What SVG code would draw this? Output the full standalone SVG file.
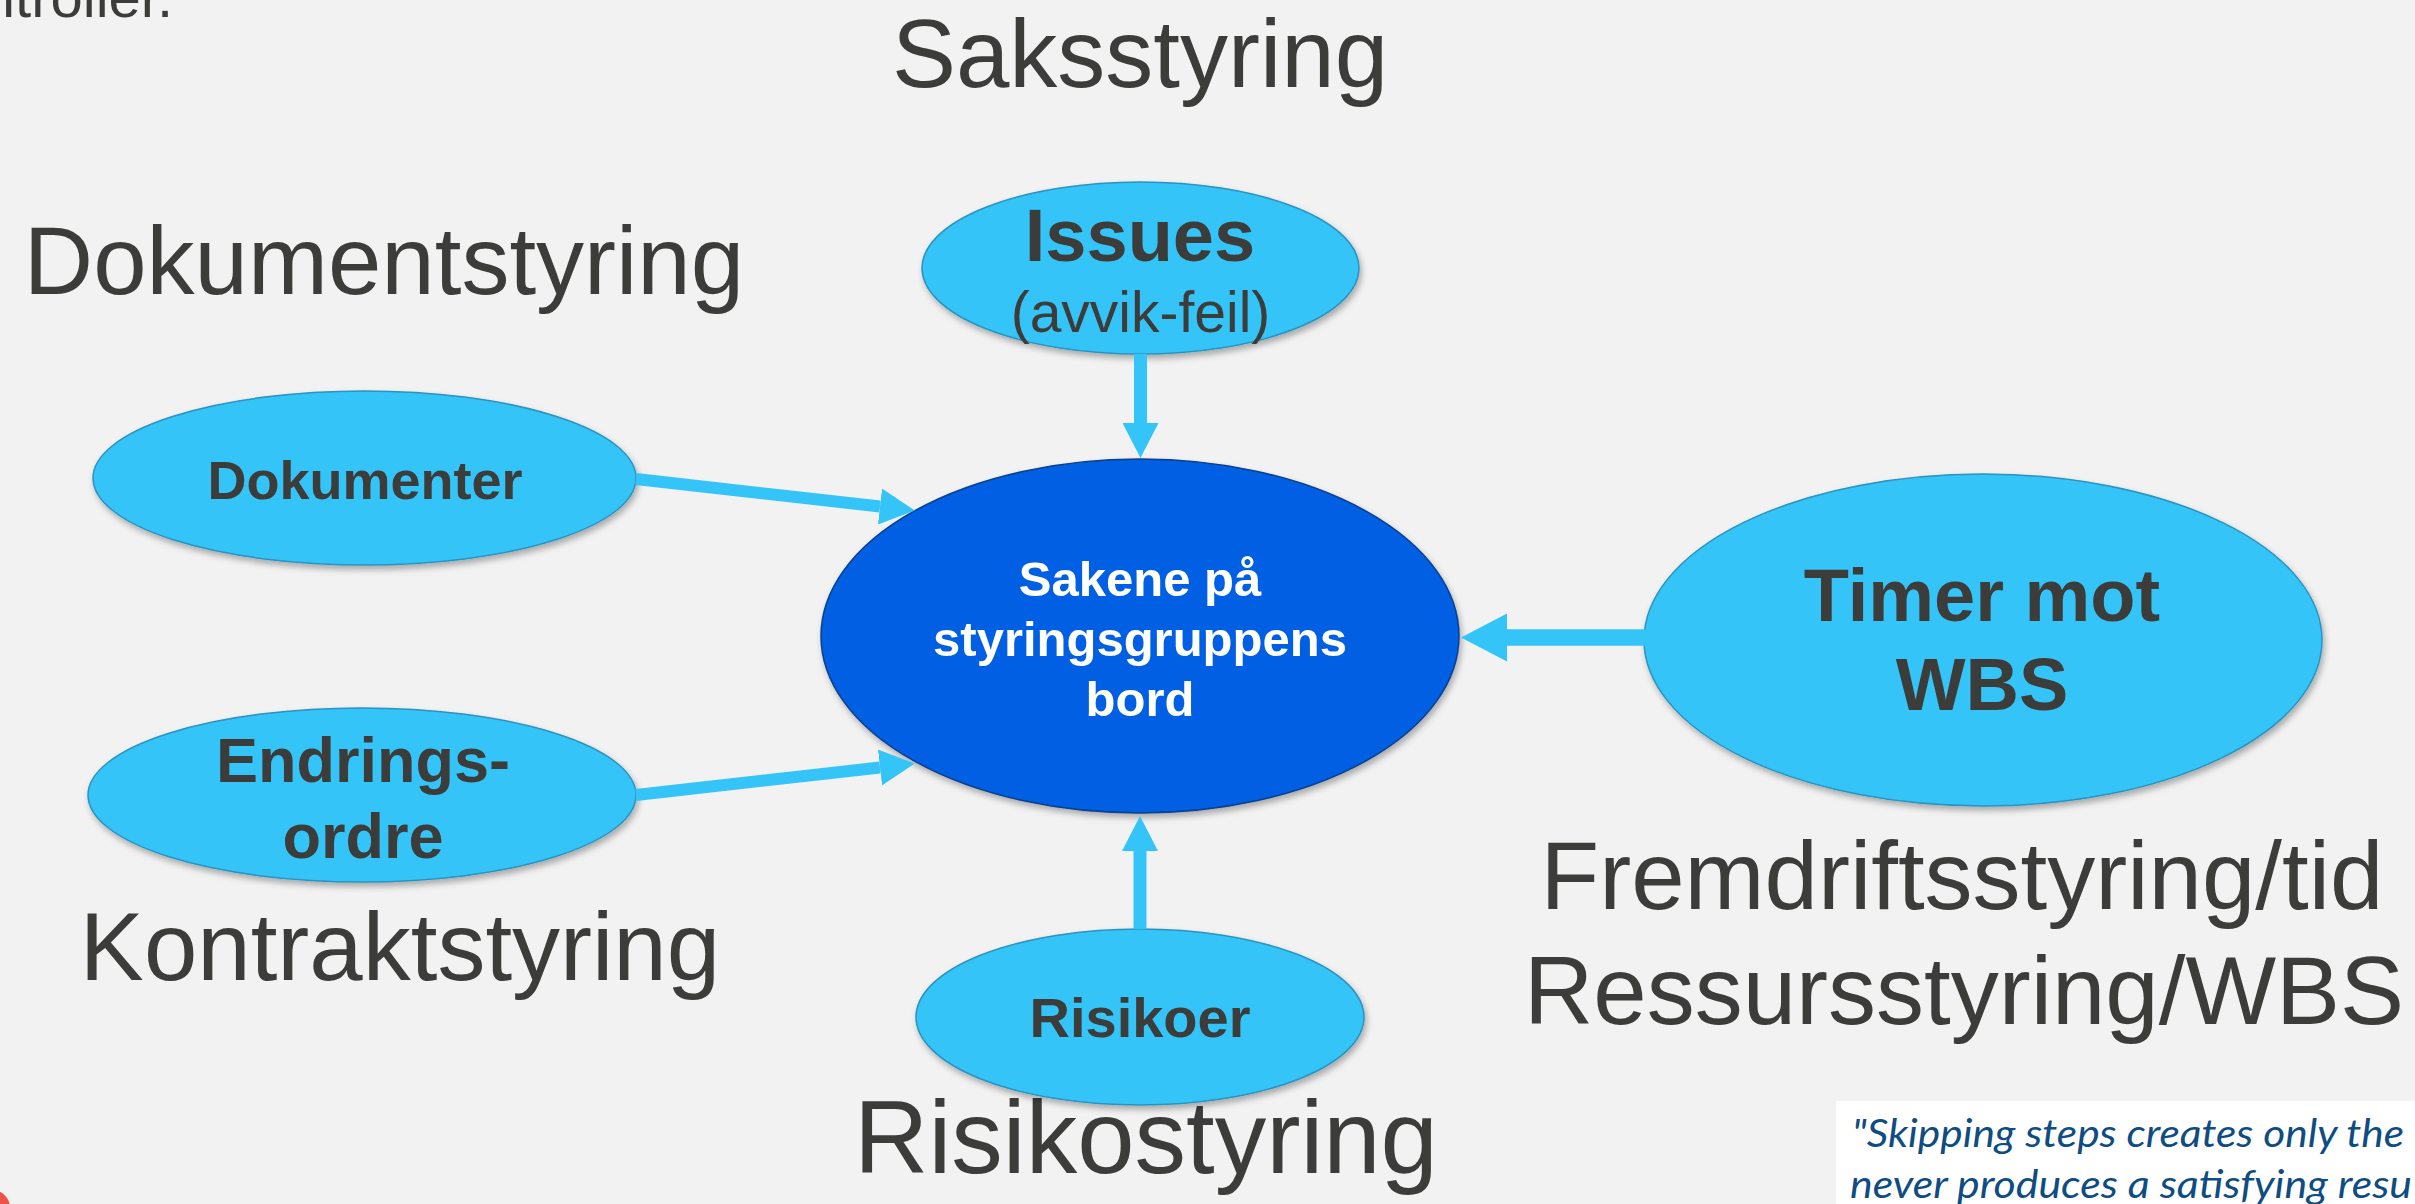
<svg xmlns="http://www.w3.org/2000/svg" width="2415" height="1204" viewBox="0 0 2415 1204">
<style>
.bg{fill:#f2f2f2}
.node{fill:#35c4f7;stroke:#2a93c0;stroke-width:1.5}
.hub{fill:#005ee3;stroke:#0a3f8a;stroke-width:1.5}
.lbl{font-family:"Liberation Sans",Arial,sans-serif;fill:#3c3c3b;text-anchor:middle}
.b{font-weight:bold}
.big{font-family:"Liberation Sans",Arial,sans-serif;fill:#3c3c3b;font-size:96px}
.hubt{font-family:"Liberation Sans",Arial,sans-serif;font-weight:bold;fill:#ffffff;font-size:49px;text-anchor:middle}
.con{stroke:#35c4f7;fill:none}
.quote{font-family:Lato,"Liberation Sans",sans-serif;font-style:italic;fill:#0f4c81;font-size:39px}
</style>
<defs>
<filter id="sh" x="-10%" y="-10%" width="125%" height="130%">
<feDropShadow dx="2" dy="4" stdDeviation="3" flood-color="#000" flood-opacity="0.3"/>
</filter>
<marker id="ah" markerUnits="userSpaceOnUse" markerWidth="36" markerHeight="36" refX="0" refY="18" orient="auto">
<path d="M0,0 L35,18 L0,36 z" fill="#35c4f7"/>
</marker>
<marker id="ahL" markerUnits="userSpaceOnUse" markerWidth="48" markerHeight="48" refX="0" refY="24" orient="auto">
<path d="M0,0 L46,24 L0,48 z" fill="#35c4f7"/>
</marker>
</defs>
<rect class="bg" x="0" y="0" width="2415" height="1204"/>

<g id="headings">
<text class="big" x="173" y="17" style="font-size:58px" text-anchor="end">ntroller.</text>
<text class="big" x="1140" y="87" text-anchor="middle">Saksstyring</text>
<text class="big" x="384" y="294" text-anchor="middle">Dokumentstyring</text>
<text class="big" x="400" y="980" text-anchor="middle">Kontraktstyring</text>
<text class="big" x="1146" y="1173" text-anchor="middle" style="font-size:103px">Risikostyring</text>
<text class="big" x="1962" y="909" text-anchor="middle">Fremdriftsstyring/tid</text>
<text class="big" x="1964" y="1024" text-anchor="middle">Ressursstyring/WBS</text>
</g>

<g id="node-issues">
<ellipse class="node" cx="1140.5" cy="268" rx="218.5" ry="86" filter="url(#sh)"/>
<text class="lbl b" x="1140" y="261" font-size="74">Issues</text>
<text class="lbl" x="1140.5" y="332" font-size="57">(avvik-feil)</text>
</g>

<g id="node-dokumenter">
<ellipse class="node" cx="364.5" cy="478" rx="271.5" ry="87" filter="url(#sh)"/>
<text class="lbl b" x="365" y="499" font-size="54">Dokumenter</text>
</g>

<g id="node-endringsordre">
<ellipse class="node" cx="362" cy="795" rx="274" ry="87" filter="url(#sh)"/>
<text class="lbl b" x="363" y="782" font-size="63">Endrings-</text>
<text class="lbl b" x="363" y="858" font-size="63">ordre</text>
</g>

<g id="node-timer">
<ellipse class="node" cx="1983" cy="640" rx="339" ry="166" filter="url(#sh)"/>
<text class="lbl b" x="1982" y="621" font-size="74">Timer mot</text>
<text class="lbl b" x="1982" y="710" font-size="74">WBS</text>
</g>

<g id="node-risikoer">
<ellipse class="node" cx="1140" cy="1017" rx="224" ry="88" filter="url(#sh)"/>
<text class="lbl b" x="1140" y="1037" font-size="56">Risikoer</text>
</g>

<g id="node-center">
<ellipse class="hub" cx="1140" cy="636" rx="319" ry="177" filter="url(#sh)"/>
<text class="hubt" x="1140" y="596">Sakene på</text>
<text class="hubt" x="1140" y="656">styringsgruppens</text>
<text class="hubt" x="1140" y="716">bord</text>
</g>

<g id="connectors">
<line class="con" x1="1140.5" y1="354" x2="1140.5" y2="423" stroke-width="13" marker-end="url(#ah)"/>
<line class="con" x1="636" y1="479" x2="880" y2="506.5" stroke-width="12" marker-end="url(#ah)"/>
<line class="con" x1="636" y1="795" x2="880" y2="767.5" stroke-width="12" marker-end="url(#ah)"/>
<line class="con" x1="1645" y1="637.5" x2="1507" y2="637.5" stroke-width="16.5" marker-end="url(#ahL)"/>
<line class="con" x1="1140" y1="929" x2="1140" y2="851" stroke-width="13" marker-end="url(#ah)"/>
</g>

<g id="quote">
<rect x="1836" y="1101" width="579" height="103" fill="#ffffff"/>
<text class="quote" x="1852" y="1147" textLength="552" lengthAdjust="spacingAndGlyphs">"Skipping steps creates only the</text>
<text class="quote" x="1850" y="1198" textLength="562" lengthAdjust="spacingAndGlyphs">never produces a satisfying resu</text>
</g>

<circle cx="-8" cy="1208" r="18" fill="#f0524a"/>
</svg>
